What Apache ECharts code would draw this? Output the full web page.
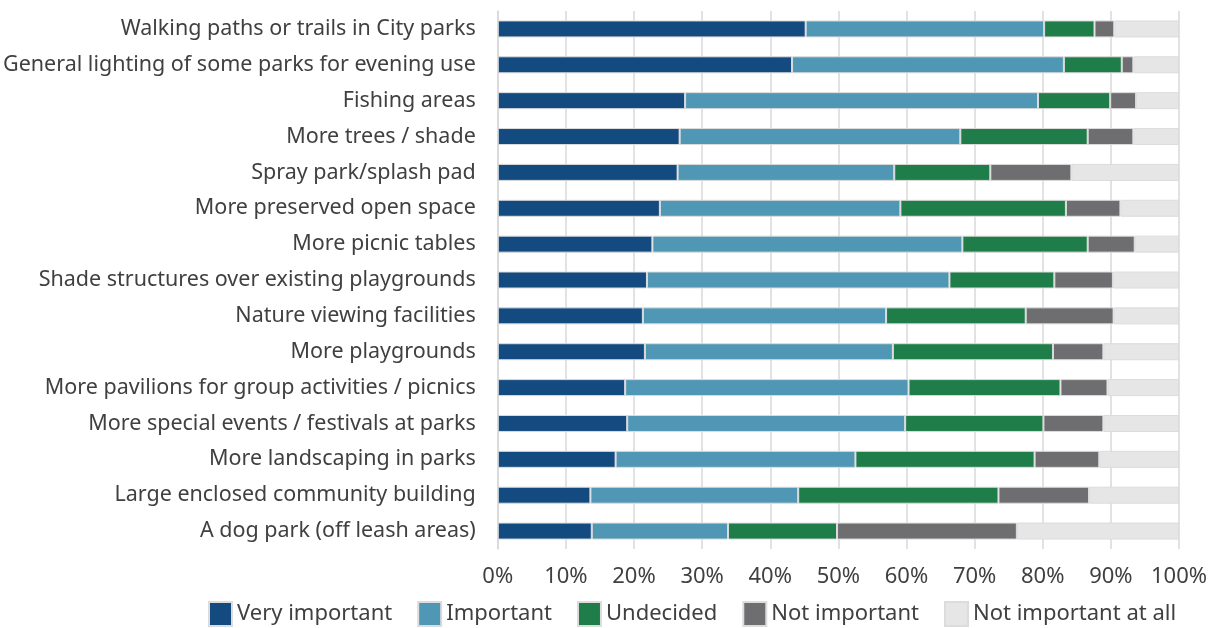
<!DOCTYPE html>
<html><head><meta charset="utf-8">
<script src="https://cdn.jsdelivr.net/npm/echarts@6/dist/echarts.min.js"></script>
<style>html,body{margin:0;padding:0;background:#fff}#c{width:1217px;height:628px}</style>
</head><body><div id="c"></div>
<script>
const categories = [
  "Walking paths or trails in City parks",
  "General lighting of some parks for evening use",
  "Fishing areas",
  "More trees / shade",
  "Spray park/splash pad",
  "More preserved open space",
  "More picnic tables",
  "Shade structures over existing playgrounds",
  "Nature viewing facilities",
  "More playgrounds",
  "More pavilions for group activities / picnics",
  "More special events / festivals at parks",
  "More landscaping in parks",
  "Large enclosed community building",
  "A dog park (off leash areas)"
];
const veryImportant = [45.2, 43.2, 27.5, 26.7, 26.4, 23.8, 22.7, 21.9, 21.3, 21.6, 18.7, 19.0, 17.3, 13.6, 13.8];
const important     = [35.0, 39.9, 51.8, 41.2, 31.8, 35.3, 45.5, 44.4, 35.7, 36.4, 41.6, 40.8, 35.2, 30.5, 20.0];
const undecided     = [7.4, 8.5, 10.6, 18.7, 14.1, 24.3, 18.4, 15.4, 20.5, 23.5, 22.3, 20.3, 26.3, 29.4, 16.0];
const notImportant  = [2.9, 1.7, 3.8, 6.7, 11.9, 8.0, 6.9, 8.6, 12.9, 7.4, 6.9, 8.8, 9.5, 13.3, 26.4];
const notAtAll      = [9.5, 6.7, 6.3, 6.7, 15.8, 8.6, 6.5, 9.7, 9.6, 11.1, 10.5, 11.1, 11.7, 13.2, 23.8];
const seriesNames = ["Very important", "Important", "Undecided", "Not important", "Not important at all"];
const seriesValues = [veryImportant, important, undecided, notImportant, notAtAll];
const colors = ["#134a80", "#5097b5", "#1e7d48", "#6e6e71", "#e6e6e6"];

const chart = echarts.init(document.getElementById('c'), null, {renderer: 'canvas'});
const font = "'Noto Sans', 'DejaVu Sans', sans-serif";
chart.setOption({
  animation: false,
  color: colors,
  grid: {left: 497, right: 38, top: 11, bottom: 79, containLabel: false},
  xAxis: {
    type: 'value', min: 0, max: 100, interval: 10,
    axisLabel: {formatter: '{value}%', color: '#404040', fontSize: 22, fontFamily: font, margin: 17},
    axisLine: {show: false}, axisTick: {show: false},
    splitLine: {show: true, lineStyle: {color: '#d9d9d9', width: 1.5}}
  },
  yAxis: {
    type: 'category', data: categories, inverse: true,
    axisLabel: {color: '#404040', fontSize: 21.5, fontFamily: font, margin: 22},
    axisLine: {show: true, lineStyle: {color: '#d9d9d9', width: 1.5}},
    axisTick: {show: false}
  },
  legend: {
    left: 208, bottom: 1, padding: [0, 0], itemWidth: 23, itemHeight: 24, itemGap: 25,
    icon: 'rect',
    textStyle: {color: '#404040', fontSize: 22, fontFamily: font},
    data: seriesNames
  },
  series: seriesNames.map((n, i) => ({
    name: n, type: 'bar', stack: 'total', barWidth: 17,
    itemStyle: {color: colors[i], borderColor: '#dcdcdc', borderWidth: 1},
    data: seriesValues[i]
  }))
});
</script></body></html>
